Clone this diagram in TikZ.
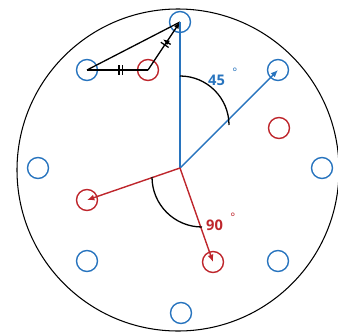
\documentclass[tikz,border=0pt]{standalone}
\usepackage{fontspec}
\setmainfont{Open Sans}
\usepackage{tikz}
\usetikzlibrary{
  arrows.meta,
  decorations.markings
}
\definecolor{HoleBlue}{RGB}{40,116,190}
\definecolor{HoleRed}{RGB}{190,38,44}
\tikzset{
  bluehole/.style={circle,draw=HoleBlue,line width=1.2pt,minimum size=6.3mm,inner sep=0pt},
  redhole/.style={circle,draw=HoleRed,line width=1.2pt,minimum size=6.3mm,inner sep=0pt},
  bluearrow/.style={-{Latex[length=2.2mm,width=1.8mm]},draw=HoleBlue,line width=1.2pt},
  redarrow/.style={-{Latex[length=2.2mm,width=1.8mm]},draw=HoleRed,line width=1.2pt},
  angarc/.style={draw=black,line width=1.1pt},
  trileg/.style={draw=black,line width=1.1pt},
  eqmark/.style={postaction={decorate},decoration={markings,mark=at position #1 with
    {\draw[line width=1.1pt] (-1.3pt,-4pt)--(-1.3pt,4pt) (1.8pt,-4pt)--(1.8pt,4pt);}}},
  anglabel/.style={font=\fontsize{12.5}{14}\selectfont\bfseries,inner sep=0pt,anchor=west}
}
\begin{document}
\begin{tikzpicture}[x=0.3mm,y=-0.3mm]
\useasboundingbox (0,0) rectangle (338,334);
\draw[line width=0.9pt] (178,170) circle (161);
\coordinate (o) at (180,168);
% holes on the plate
\node[bluehole] (top) at (180,22) {};
\node[bluehole] (ul) at (87,70) {};
\node[bluehole] (ur) at (278,70) {};
\node[bluehole] (lft) at (38,168) {};
\node[bluehole] (rgt) at (322,168) {};
\node[bluehole] (ll) at (87,261) {};
\node[bluehole] (lr) at (278,261) {};
\node[bluehole] (bot) at (181,313) {};
\node[redhole] (r1) at (148,70) {};
\node[redhole] (r2) at (279,128) {};
\node[redhole] (r3) at (87,200) {};
\node[redhole] (r4) at (213,262) {};

% small triangle
\draw[trileg,eqmark=0.55] (ul.center) -- (r1.center);
\draw[trileg,eqmark=0.55,-{Latex[length=2mm,width=1.6mm]}] (r1.center) -- (top.center);
\draw[trileg] (ul.center) -- (top.center);

% arrows from centre
\draw[draw=HoleBlue,line width=1.2pt] (o) -- (top.center);
\draw[bluearrow] (o) -- (ur.center);
\draw[redarrow] (o) -- (r3.center);
\draw[redarrow] (o) -- (r4.center);

% angles
\draw[angarc] (180,76) arc[start angle=-90,end angle=0,radius=49];
\draw[angarc] (152,177) arc[start angle=180,end angle=90,radius=50];
\node[anglabel,text=HoleBlue] (a45) at (208,77) {45\hspace{2.2mm}\raisebox{1.1ex}{\fontsize{10}{10}\selectfont\mdseries°}};
\node[anglabel,text=HoleRed] (a90) at (206,222) {90\hspace{2.2mm}\raisebox{1.1ex}{\fontsize{10}{10}\selectfont\mdseries°}};
\end{tikzpicture}
\end{document}
